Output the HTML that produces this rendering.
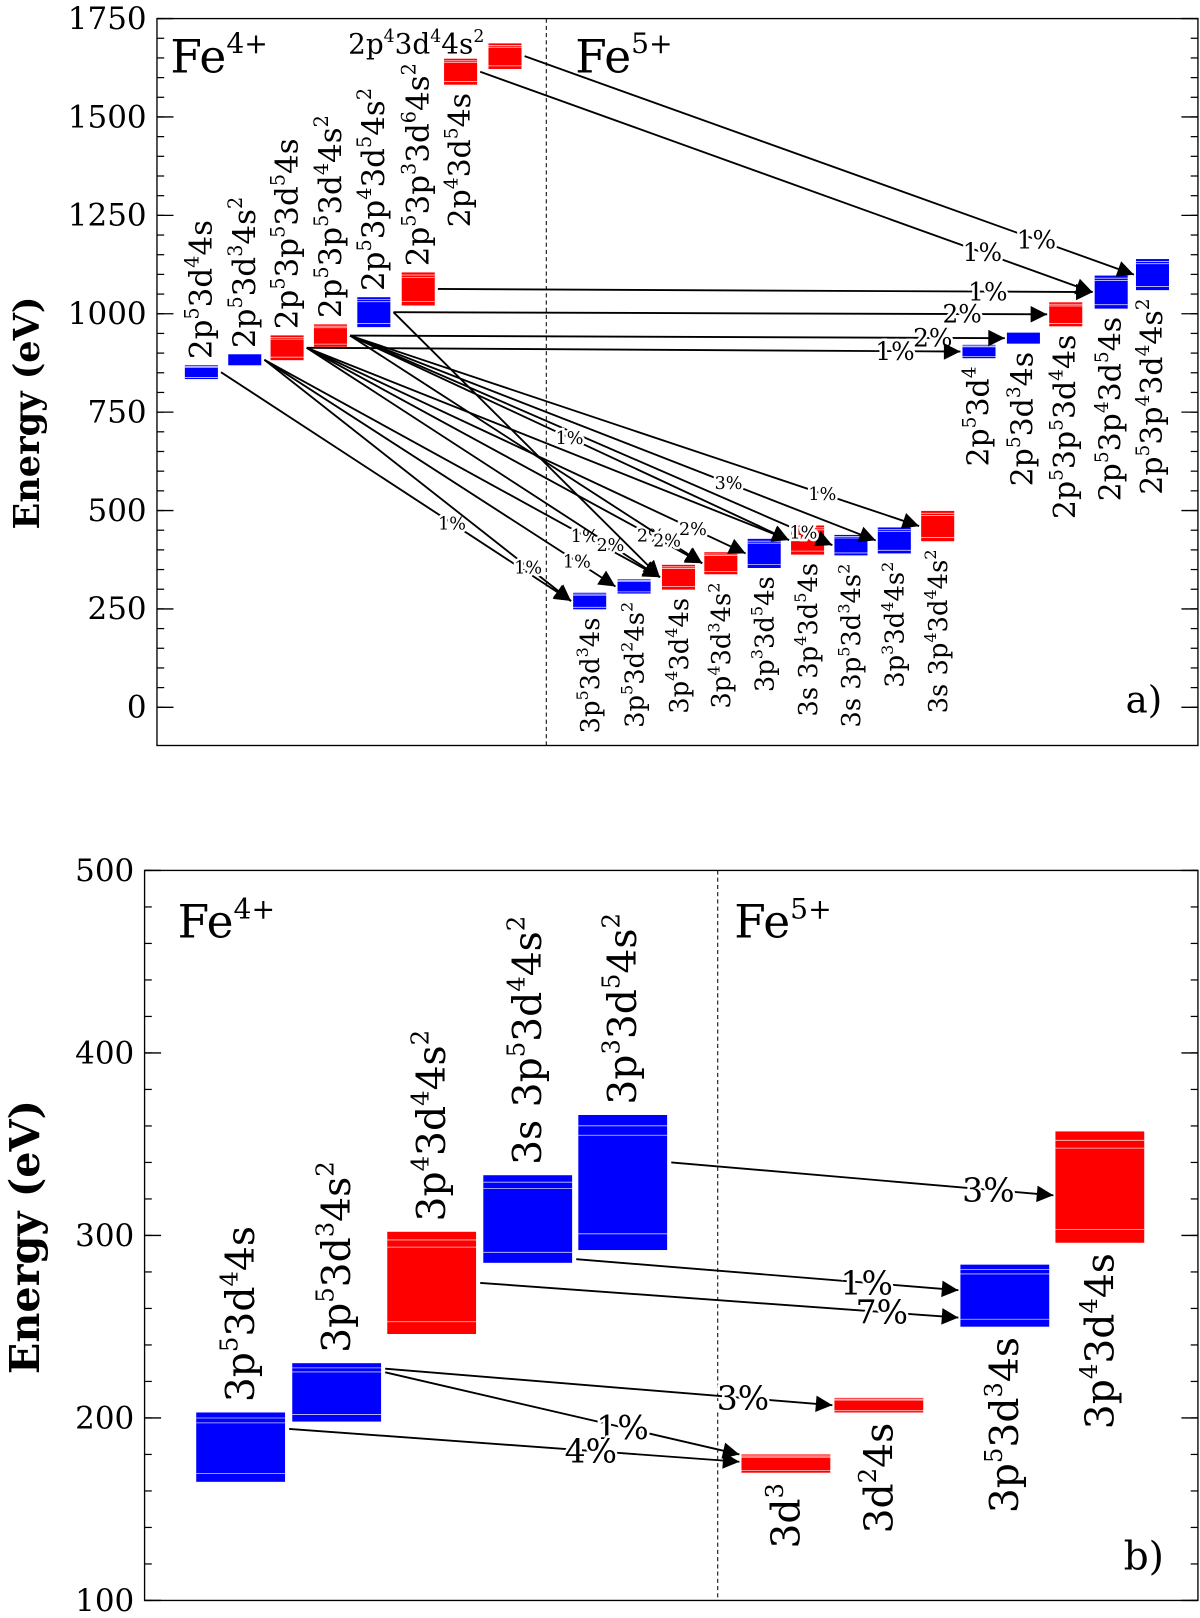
<!DOCTYPE html>
<html><head><meta charset="utf-8">
<style>
html,body{margin:0;padding:0;background:#fff;}
svg{display:block;font-family:"DejaVu Serif","Liberation Serif",serif;}
</style></head>
<body>
<svg id="chart" width="1200" height="1618" viewBox="0 0 1162 1567" preserveAspectRatio="none" xmlns="http://www.w3.org/2000/svg">
<defs>
<marker id="ah" viewBox="0 0 10 10" refX="10" refY="5" markerWidth="26" markerHeight="16" markerUnits="userSpaceOnUse" orient="auto"><path d="M0,0 L10,5 L0,10 z" fill="#000"/></marker>
</defs>
</svg>
<script>
const NS="http://www.w3.org/2000/svg";
const svg=document.getElementById('chart');

// ===== Panel a data =====
const aTicks=[0,250,500,750,1000,1250,1500,1750];
const aNames=["A1","A2","A3","A4","A5","A6","A7","A8","B1","B2","B3","B4","B5","C1","C2","C3","C4","C5","C6","C7","C8","C9"];
const aLow=[834,869,882,916,966,1021,1582,1622,887,924,968,1013,1060,249,289,299,338,354,388,386,391,422];
const aHigh=[869,897,945,973,1042,1105,1648,1687,921,952,1029,1097,1139,291,325,362,394,428,462,438,457,499];
const aColor=["b","b","r","r","b","r","r","r","b","b","r","b","b","b","b","r","r","b","r","b","b","r"];
const aLabels=["2p{5}3d{4}4s","2p{5}3d{3}4s{2}","2p{5}3p{5}3d{5}4s","2p{5}3p{5}3d{4}4s{2}","2p{5}3p{4}3d{5}4s{2}","2p{5}3p{3}3d{6}4s{2}","2p{4}3d{5}4s","2p{4}3d{4}4s{2}",
"2p{5}3d{4}","2p{5}3d{3}4s","2p{5}3p{5}3d{4}4s","2p{5}3p{4}3d{5}4s","2p{5}3p{4}3d{4}4s{2}",
"3p{5}3d{3}4s","3p{5}3d{2}4s{2}","3p{4}3d{4}4s","3p{4}3d{3}4s{2}","3p{3}3d{5}4s","3s 3p{4}3d{5}4s","3s 3p{5}3d{3}4s{2}","3p{3}3d{4}4s{2}","3s 3p{4}3d{4}4s{2}"];
const aLabelPos=["above","above","above","above","above","above","below","left","below","below","below","below","below","below","below","below","below","below","below","below","below","below"];
const aBoxX=[179,221,262,304,346,389,430,473,932,975,1016,1060,1100,555,598,641,682,724,766,808,850,892];
// arrows: source index, target index, label, label fraction
const aSrc=[7,6,5,4,3,2, 0,1,1,1,2,2,3,2,3,3,3,3,4,2];
const aTgt=[12,11,11,10,9,8, 13,13,14,15,15,16,16,17,19,18,20,21,15,18];
const aTxt=["1%","1%","1%","2%","2%","1%", "1%","1%","1%","1%","2%","2%","2%","2%","1%","1%","3%","1%","",""];
const aFrac=[0.84,0.82,0.84,0.87,0.89,0.9, 0.66,0.86,0.89,0.81,0.86,0.87,0.9,0.88,0.94,0.5,0.72,0.83,0.5,0.5];

// ===== Panel b data =====
const bTicks=[100,200,300,400,500];
const bNames=["D1","D2","D3","D4","D5","E1","E2","E3","E4"];
const bLow=[165,198,246,285,292,170,203,250,296];
const bHigh=[203,230,302,333,366,180,211,284,357];
const bColor=["b","b","r","b","b","r","r","b","r"];
const bLabels=["3p{5}3d{4}4s","3p{5}3d{3}4s{2}","3p{4}3d{4}4s{2}","3s 3p{5}3d{4}4s{2}","3p{3}3d{5}4s{2}","3d{3}","3d{2}4s","3p{5}3d{3}4s","3p{4}3d{4}4s"];
const bLabelPos=["above","above","above","above","above","below","below","below","below"];
const bBoxX=[190,283,375,468,560,718,808,930,1022];
const bSrc=[4,3,2,1,1,0];
const bTgt=[8,7,7,6,5,5];
const bSrcE=[340,287,274,227,225,194];
const bTgtE=[322,270,255,207,180,176];
const bTxt=["3%","1%","7%","3%","1%","4%"];
const bFrac=[0.83,0.76,0.84,0.8,0.67,0.67];

// axes
const ya=v=>685-v*(667/1750);
const yb=v=>843+(500-v)*(707/400);

function el(tag,attrs,parent){const e=document.createElementNS(NS,tag);for(const k in attrs)e.setAttribute(k,attrs[k]);(parent||svg).appendChild(e);return e;}
function richText(g,str,x,y,size,attrs){
  const t=el('text',Object.assign({x:x,y:y,'font-size':size,fill:'#000'},attrs||{}),g);
  const parts=str.split(/(\{[^}]*\})/);
  let sup=false;
  parts.forEach(p=>{ if(!p)return;
    if(p[0]==='{'){const s=el('tspan',{'font-size':size*0.62,dy:-size*0.42},t);s.textContent=p.slice(1,-1);sup=true;}
    else{const s=el('tspan',sup?{dy:size*0.42}:{},t);s.textContent=p;sup=false;}
  });
  return t;
}
function frame(x0,y0,x1,y1,ticks,yf,minorStep,name){
  const g=el('g',{});
  
  
  el('rect',{x:x0,y:y0,width:x1-x0,height:y1-y0,fill:'none',stroke:'#000','stroke-width':1.3},g);
  const lo=ticks[0],hi=ticks[ticks.length-1];
  for(let v=lo;v<=hi+0.001;v+=minorStep){const y=yf(v);
    el('line',{x1:x0,x2:x0+7,y1:y,y2:y,stroke:'#000','stroke-width':1.2},g);
    el('line',{x1:x1-7,x2:x1,y1:y,y2:y,stroke:'#000','stroke-width':1.2},g);}
  ticks.forEach(v=>{const y=yf(v);
    el('line',{x1:x0,x2:x0+16,y1:y,y2:y,stroke:'#000','stroke-width':1.3},g);
    el('line',{x1:x1-16,x2:x1,y1:y,y2:y,stroke:'#000','stroke-width':1.3},g);
    const t=el('text',{x:x0-10,y:y+10,'text-anchor':'end','font-size':30,fill:'#000'},g);t.textContent=v;
    
    });
  return g;
}
function drawBox(g,x,w,y1,y2,c){
  const col=c==='r'?'#ff0000':'#0000ff';
  el('rect',{x:x,y:y2,width:w,height:y1-y2,fill:col},g);
  const h=y1-y2;
  [0.08,0.15,0.88].forEach(f=>{ if(h>12) el('line',{x1:x,x2:x+w,y1:y2+h*f,y2:y2+h*f,stroke:'#fff','stroke-width':0.8,opacity:0.8},g);});
}

// ===== Panel a =====
frame(152,18,1160,722,aTicks,ya,50,'panel-a');
el('line',{x1:529,x2:529,y1:18,y2:722,stroke:'#000','stroke-width':1,'stroke-dasharray':'4,3'});
let t=richText(svg,'Fe{4+}',165,70,44);

t=richText(svg,'Fe{5+}',557,70,44);

t=el('text',{x:1090,y:690,'font-size':36,fill:'#000'});t.textContent='a)';

t=el('text',{x:0,y:0,'font-size':34,'font-weight':'bold',fill:'#000','text-anchor':'middle',transform:'translate(38,400) rotate(-90)'});t.textContent='Energy (eV)';


const aW=32;
const ga=el('g',{});


aNames.forEach((n,i)=>{
  const g=el('g',{},ga);
  
  
  const x=aBoxX[i],top=ya(aHigh[i]),bot=ya(aLow[i]);
  drawBox(g,x,aW,bot,top,aColor[i]);
  const cx=x+aW/2+10;
  const fs=i>=13?25:29;
  if(aLabelPos[i]==='above') richText(g,aLabels[i],0,0,30,{transform:`translate(${cx},${top-6}) rotate(-90)`});
  else if(aLabelPos[i]==='below') richText(g,aLabels[i],0,0,fs,{'text-anchor':'end',transform:`translate(${cx-1},${bot+8}) rotate(-90)`});
  else richText(g,aLabels[i],x-4,top+10,27,{'text-anchor':'end'});
});
function arrow(g,x1,y1,x2,y2,txt,f,size){
  el('line',{x1:x1,y1:y1,x2:x2,y2:y2,stroke:'#000','stroke-width':1.8,'marker-end':'url(#ah)'},g);
  if(txt){const lx=x1+(x2-x1)*f,ly=y1+(y2-y1)*f;
    const tt=el('text',{x:lx,y:ly+size*0.35,'text-anchor':'middle','font-size':size,fill:'#000',stroke:'#fff','stroke-width':5,'paint-order':'stroke'},g);
    tt.textContent=txt;}
}
aSrc.forEach((s,i)=>{
  const g=el('g',{});
  
  
  const tg=aTgt[i];
  const x1=aBoxX[s]+aW+3,y1=ya((aLow[s]+aHigh[s])/2);
  const x2=aBoxX[tg]-2,y2=ya((aLow[tg]+aHigh[tg])/2);
  arrow(g,x1,y1,x2,y2,aTxt[i],aFrac[i],i<6?24:17);
});

// ===== Panel b =====
frame(140,843,1160,1550,bTicks,yb,20,'panel-b');
el('line',{x1:695,x2:695,y1:843,y2:1550,stroke:'#000','stroke-width':1,'stroke-dasharray':'4,3'});
t=richText(svg,'Fe{4+}',172,908,44);

t=richText(svg,'Fe{5+}',711,908,44);

t=el('text',{x:1088,y:1520,'font-size':38,fill:'#000'});t.textContent='b)';

t=el('text',{x:0,y:0,'font-size':40,'font-weight':'bold',fill:'#000','text-anchor':'middle',transform:'translate(38,1198) rotate(-90)'});t.textContent='Energy (eV)';


const bW=86;
const gb=el('g',{});


bNames.forEach((n,i)=>{
  const g=el('g',{},gb);
  
  
  const x=bBoxX[i],top=yb(bHigh[i]),bot=yb(bLow[i]);
  drawBox(g,x,bW,bot,top,bColor[i]);
  const cx=x+bW/2+13;
  if(bLabelPos[i]==='above') richText(g,bLabels[i],0,0,38,{transform:`translate(${cx},${top-10}) rotate(-90)`});
  else richText(g,bLabels[i],0,0,38,{'text-anchor':'end',transform:`translate(${cx},${bot+10}) rotate(-90)`});
});
bSrc.forEach((s,i)=>{
  const g=el('g',{});
  
  
  const tg=bTgt[i];
  arrow(g,bBoxX[s]+bW+4,yb(bSrcE[i]),bBoxX[tg]-2,yb(bTgtE[i]),bTxt[i],bFrac[i],32);
});
</script>
</body></html>
